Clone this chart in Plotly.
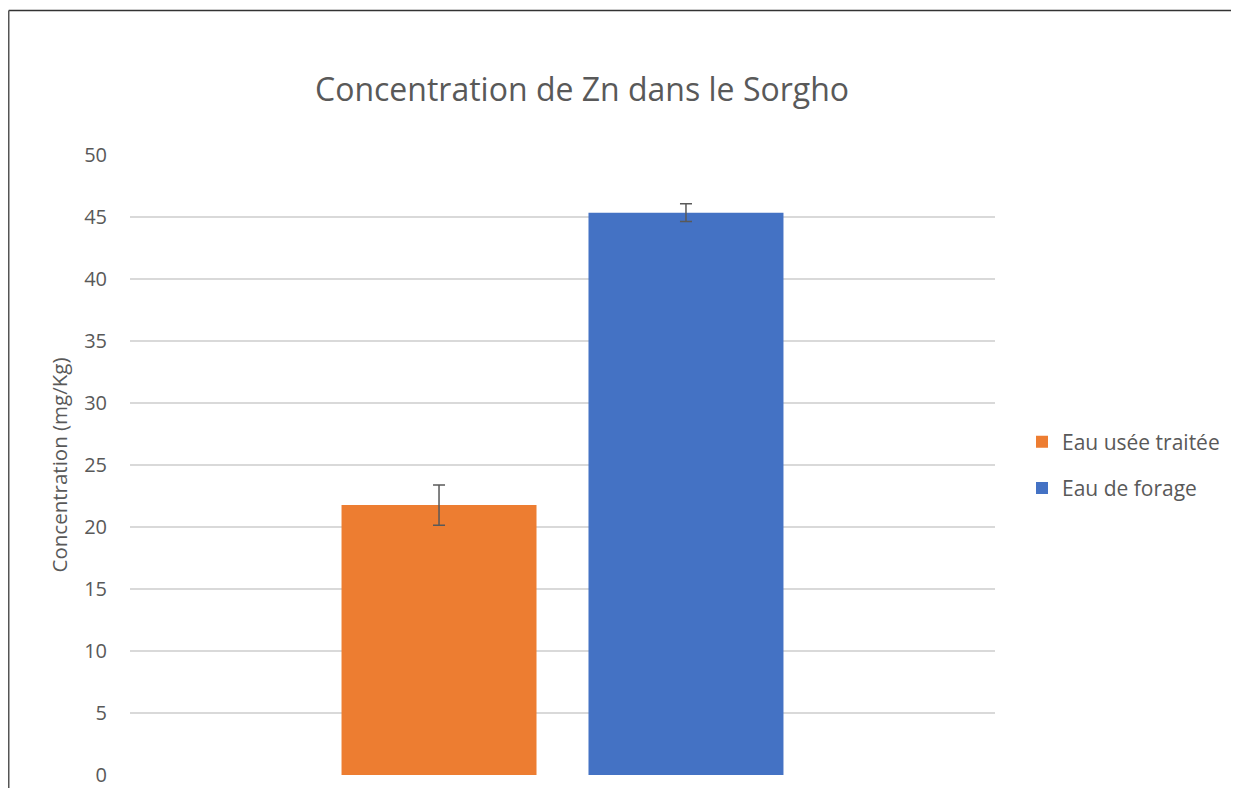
import plotly.graph_objects as go

series_names = ["Eau usée traitée", "Eau de forage"]
series_values = [21.77, 45.35]
series_errors = [1.62, 0.72]
series_colors = ["#ED7D31", "#4472C4"]
category = ["Sorgho"]
y_ticks = [0, 5, 10, 15, 20, 25, 30, 35, 40, 45, 50]

# page has an 8px body margin, so the figure is sized to fit inside the window
W, H = 1223, 780
L, R, T, B = 122, 236, 147, 13
PW, PH = W - L - R, H - T - B
FONT = "Open Sans"
TXT = "#595959"

fig = go.Figure()
for i, (name, val, err, col) in enumerate(zip(series_names, series_values, series_errors, series_colors)):
    fig.add_trace(go.Bar(
        x=category, y=[val], name=name, marker=dict(color=col, line=dict(width=0)),
        error_y=dict(type="data", array=[err], visible=True, color="#595959", thickness=1.5, width=6),
        legendgroup=f"g{i}",
    ))

bx0 = (0.75 - L) / PW
bx1 = (W + 30 - L) / PW
by0 = -(B + 30) / PH
by1 = 1 + (T - 2.5) / PH

fig.update_layout(
    width=W, height=H,
    margin=dict(l=L, r=R, t=T, b=B, autoexpand=False),
    paper_bgcolor="white", plot_bgcolor="white",
    barmode="group", bargap=0.429, bargroupgap=0.2105,
    font=dict(family=FONT, color=TXT),
    title=dict(text="Concentration de Zn dans le Sorgho", x=574 / W, xanchor="center",
               y=1 - 82 / H, yanchor="middle", font=dict(family=FONT, size=32, color=TXT)),
    xaxis=dict(showticklabels=False, showgrid=False, zeroline=False, showline=False, ticks="",
               automargin=False),
    yaxis=dict(range=[0, 50], tickvals=y_ticks, showgrid=True, gridcolor="#d9d9d9", gridwidth=1.5,
               zeroline=False, showline=False, ticks="", ticklabelstandoff=22, automargin=False,
               tickfont=dict(family=FONT, size=20, color=TXT),
               title=dict(text="Concentration (mg/Kg)", standoff=10, font=dict(family=FONT, size=20.5, color=TXT))),
    legend=dict(x=(1014 - L) / PW, xanchor="left", y=0.5, yanchor="middle",
                font=dict(family=FONT, size=21, color=TXT), tracegroupgap=16, bgcolor="rgba(0,0,0,0)"),
    shapes=[
        dict(type="line", xref="paper", yref="paper", x0=bx0, x1=bx1, y0=by1, y1=by1,
             line=dict(color="#333333", width=1.5), layer="below"),
        dict(type="line", xref="paper", yref="paper", x0=bx0, x1=bx0, y0=by0, y1=by1,
             line=dict(color="#555555", width=1.5), layer="below"),
    ],
)

fig.write_html("out.html")
